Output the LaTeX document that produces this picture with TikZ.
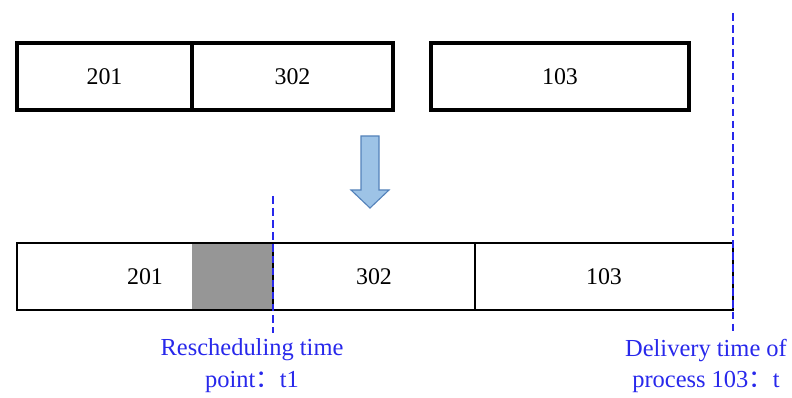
\documentclass[tikz,border=0pt]{standalone}
\usepackage{fontspec}
\setmainfont{Liberation Serif}
\newfontfamily\cjk{Noto Sans CJK SC}
\usetikzlibrary{positioning}
\usetikzlibrary{backgrounds}
\usetikzlibrary{calc}

\definecolor{markblue}{RGB}{40,40,235}
\definecolor{arrowfill}{RGB}{157,195,230}
\definecolor{arrowline}{RGB}{84,130,186}
\definecolor{idlegray}{RGB}{150,150,150}

\tikzset{
  job/.style={draw=black, minimum height=1.675cm, inner sep=0, outer sep=0, font=\fontsize{17}{21}\selectfont},
  oldjob/.style={job, line width=2.3pt},
  newjob/.style={job, line width=1.7pt},
  timeline/.style={draw=markblue, line width=1pt, dash pattern=on 5.5pt off 3pt},
  timelabel/.style={text=markblue, align=center, font=\fontsize{17.4}{22.7}\selectfont}
}

\begin{document}
\begin{tikzpicture}
 \useasboundingbox (0,0) rectangle (19.8,9.925);

 % schedule before the change
 \node (o201) [oldjob, minimum width=4.375cm, anchor=north west] at (0.425,8.85) {201};
 \node (o302) [oldjob, minimum width=5.025cm, right=0cm of o201] {302};
 \node (o103) [oldjob, minimum width=6.45cm, right=0.95cm of o302] {103};

 % schedule after rescheduling
 \node (n201) [newjob, minimum width=6.4cm, anchor=north west] at (0.425,3.85) {201};
 \node (n302) [newjob, minimum width=5.05cm, right=0cm of n201] {302};
 \node (n103) [newjob, minimum width=6.45cm, right=0cm of n302] {103};

 \begin{scope}[on background layer]
   \fill [idlegray] ($ (n201.north west) + (4.375cm,0) $) rectangle (n201.south east);
 \end{scope}

 % block arrow between the two rows
 \coordinate (shift) at (9.25,6.525);
 \draw [draw=arrowline, fill=arrowfill, line width=0.8pt]
   ($ (shift) + (-0.225,0) $) -- ++(0,-1.35) -- ++(-0.25,0) -- ($ (shift) + (0,-1.8) $)
   -- ($ (shift) + (0.475,-1.35) $) -- ++(-0.25,0) -- ($ (shift) + (0.225,0) $) -- cycle;

 % time marks
 \coordinate (t1top) at ($ (n302.north west) + (0,1.175) $);
 \coordinate (t1bot) at ($ (n302.south west) + (0,-0.575) $);
 \draw [timeline] (t1top) -- (t1bot);

 \coordinate (ttop) at ($ (n103.north east) + (0,5.75) $);
 \coordinate (tbot) at ($ (n103.south east) + (0,-0.625) $);
 \draw [timeline] (ttop) -- (tbot);

 \node (t1note) [timelabel] at (6.3,0.775) {Rescheduling time\\point{\cjk ：}t1};
 \node (tnote) [timelabel] at (17.65,0.775) {Delivery time of\\process 103{\cjk ：}t};
\end{tikzpicture}
\end{document}
